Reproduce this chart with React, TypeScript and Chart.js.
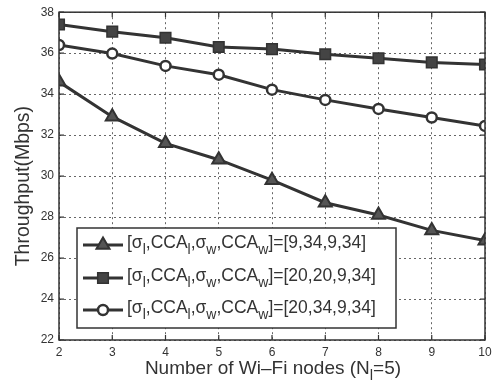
import React, { useEffect, useRef } from "react";
import { Chart, registerables } from "chart.js";

Chart.register(...registerables);

// Number of Wi-Fi nodes on the x axis
const nodes = [2, 3, 4, 5, 6, 7, 8, 9, 10];

// Throughput (Mbps) per parameter set [σ_l, CCA_l, σ_w, CCA_w]
const throughput_9_34_9_34 = [34.6, 32.9, 31.6, 30.8, 29.8, 28.7, 28.1, 27.35, 26.85];
const throughput_20_20_9_34 = [37.4, 37.05, 36.75, 36.3, 36.2, 35.95, 35.75, 35.55, 35.45];
const throughput_20_34_9_34 = [36.4, 35.98, 35.38, 34.95, 34.22, 33.72, 33.28, 32.86, 32.45];

const paramSets = ["[9,34,9,34]", "[20,20,9,34]", "[20,34,9,34]"];

const yTicks = [22, 24, 26, 28, 30, 32, 34, 36, 38];

const INK = "#333333";
const FONT = "Liberation Sans, Arial, Helvetica, sans-serif";

type Seg = { t: string; sub?: boolean };

function drawSegs(ctx: CanvasRenderingContext2D, segs: Seg[], x: number, y: number, size: number) {
  let cx = x;
  for (const s of segs) {
    if (s.sub) {
      ctx.font = `${Math.round(size * 0.78)}px ${FONT}`;
      ctx.fillText(s.t, cx, y + size * 0.38);
    } else {
      ctx.font = `${size}px ${FONT}`;
      ctx.fillText(s.t, cx, y);
    }
    cx += ctx.measureText(s.t).width;
  }
  return cx;
}

function segWidth(ctx: CanvasRenderingContext2D, segs: Seg[], size: number) {
  let w = 0;
  for (const s of segs) {
    ctx.font = s.sub ? `${Math.round(size * 0.78)}px ${FONT}` : `${size}px ${FONT}`;
    w += ctx.measureText(s.t).width;
  }
  return w;
}

// legend marker, same geometry as Chart.js point styles
function drawMarker(ctx: CanvasRenderingContext2D, style: string, r: number, x: number, y: number) {
  ctx.beginPath();
  if (style === "triangle") {
    ctx.moveTo(x, y - r);
    ctx.lineTo(x + r * Math.cos(Math.PI / 6), y + r * 0.5);
    ctx.lineTo(x - r * Math.cos(Math.PI / 6), y + r * 0.5);
    ctx.closePath();
  } else if (style === "rect") {
    const s = r * Math.SQRT1_2;
    ctx.rect(x - s, y - s, 2 * s, 2 * s);
  } else {
    ctx.arc(x, y, r, 0, Math.PI * 2);
  }
  ctx.fill();
  ctx.stroke();
}

const framePlugin = {
  id: "frameAndLegend",
  afterDraw(chart: any) {
    const ctx: CanvasRenderingContext2D = chart.ctx;
    const { left, right, top, bottom } = chart.chartArea;
    const xs = chart.scales.x;
    const ys = chart.scales.y;
    ctx.save();

    // axes box
    ctx.strokeStyle = INK;
    ctx.lineWidth = 1.5;
    ctx.strokeRect(left, top, right - left, bottom - top);

    // inward tick marks on all four sides
    ctx.lineWidth = 1.2;
    const tl = 5;
    ctx.beginPath();
    for (const v of nodes) {
      const px = xs.getPixelForValue(v);
      ctx.moveTo(px, bottom);
      ctx.lineTo(px, bottom - tl);
      ctx.moveTo(px, top);
      ctx.lineTo(px, top + tl);
    }
    for (const v of yTicks) {
      const py = ys.getPixelForValue(v);
      ctx.moveTo(left, py);
      ctx.lineTo(left + tl, py);
      ctx.moveTo(right, py);
      ctx.lineTo(right - tl, py);
    }
    ctx.stroke();

    // axis titles
    ctx.fillStyle = INK;
    ctx.textBaseline = "middle";
    const xTitle: Seg[] = [{ t: "Number of Wi\u2013Fi nodes (N" }, { t: "l", sub: true }, { t: "=5)" }];
    const xw = segWidth(ctx, xTitle, 19);
    ctx.textAlign = "left";
    drawSegs(ctx, xTitle, (left + right) / 2 - xw / 2 + 1, 369, 19);

    ctx.save();
    ctx.translate(24, (top + bottom) / 2 + 10);
    ctx.rotate(-Math.PI / 2);
    ctx.font = `19.5px ${FONT}`;
    ctx.textAlign = "center";
    ctx.fillText("Throughput(Mbps)", 0, 0);
    ctx.restore();

    // legend
    const lx = 77, ly = 228, lw = 319, lh = 100;
    ctx.fillStyle = "#ffffff";
    ctx.fillRect(lx, ly, lw, lh);
    ctx.strokeStyle = INK;
    ctx.lineWidth = 1.5;
    ctx.strokeRect(lx, ly, lw, lh);

    const rows = [245, 278, 310];
    chart.data.datasets.forEach((ds: any, i: number) => {
      const ry = rows[i];
      ctx.strokeStyle = ds.borderColor;
      ctx.lineWidth = ds.borderWidth;
      ctx.beginPath();
      ctx.moveTo(83, ry);
      ctx.lineTo(123, ry);
      ctx.stroke();
      ctx.fillStyle = ds.pointBackgroundColor;
      ctx.strokeStyle = ds.pointBorderColor;
      ctx.lineWidth = ds.pointBorderWidth;
      drawMarker(ctx, ds.pointStyle, ds.pointRadius, 103, ry);
      ctx.fillStyle = INK;
      ctx.textAlign = "left";
      ctx.textBaseline = "middle";
      const segs: Seg[] = [
        { t: "[\u03c3" }, { t: "l", sub: true },
        { t: ",CCA" }, { t: "l", sub: true },
        { t: ",\u03c3" }, { t: "w", sub: true },
        { t: ",CCA" }, { t: "w", sub: true },
        { t: "]=" + paramSets[i] },
      ];
      drawSegs(ctx, segs, 127, ry - 2, 17.5);
    });

    ctx.restore();
  },
};

export default function App() {
  const ref = useRef<HTMLCanvasElement | null>(null);

  useEffect(() => {
    if (!ref.current) return;
    const mk = (data: number[], style: string, radius: number, fill: string, bw: number) => ({
      data: nodes.map((n, i) => ({ x: n, y: data[i] })),
      borderColor: INK,
      borderWidth: 3,
      pointStyle: style,
      pointRadius: radius,
      pointBackgroundColor: fill,
      pointBorderColor: INK,
      pointBorderWidth: bw,
      tension: 0,
    });
    const chart = new Chart(ref.current, {
      type: "line",
      data: {
        datasets: [
          mk(throughput_9_34_9_34, "triangle", 7.5, "#555555", 2),
          mk(throughput_20_20_9_34, "rect", 7.5, "#444444", 1.5),
          mk(throughput_20_34_9_34, "circle", 5, "#ffffff", 2.5),
        ] as any,
      },
      options: {
        responsive: false,
        animation: false,
        layout: { padding: { top: 10, right: 13, left: 0, bottom: 0 } },
        plugins: { legend: { display: false }, tooltip: { enabled: false } },
        scales: {
          x: {
            type: "linear",
            min: 2,
            max: 10,
            afterFit: (s: any) => { s.height = 47; },
            afterBuildTicks: (s: any) => { s.ticks = nodes.map((v) => ({ value: v })); },
            ticks: { color: INK, font: { size: 12, family: FONT }, padding: 5 },
            grid: { color: "#666666", lineWidth: 1, drawTicks: false },
            border: { display: false, dash: [2, 3] },
          },
          y: {
            min: 22,
            max: 38,
            afterFit: (s: any) => { s.width = 59; },
            afterBuildTicks: (s: any) => { s.ticks = yTicks.map((v) => ({ value: v })); },
            ticks: { color: INK, font: { size: 12, family: FONT }, padding: 5 },
            grid: { color: "#666666", lineWidth: 1, drawTicks: false },
            border: { display: false, dash: [2, 3] },
          },
        },
      },
      plugins: [framePlugin],
    });
    return () => chart.destroy();
  }, []);

  return (
    <div style={{ position: "absolute", left: 0, top: 0, width: 498, height: 387, background: "#fff" }}>
      <canvas ref={ref} width={498} height={387} />
    </div>
  );
}
